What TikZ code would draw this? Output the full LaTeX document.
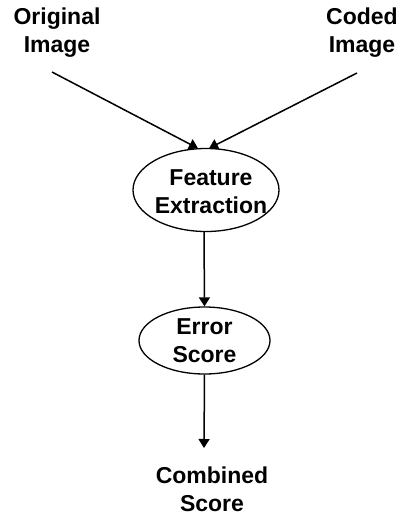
\documentclass[tikz,border=0pt]{standalone}
\usepackage{fontspec}
\setmainfont{Liberation Sans}
\usetikzlibrary{shapes.geometric,arrows.meta}
\begin{document}
\begin{tikzpicture}[x=1pt,y=-1pt,
  lbl/.style={font=\fontsize{23}{28}\selectfont\bfseries, align=center, inner sep=0pt},
  oval/.style={draw, ellipse, line width=1.3pt, inner sep=0pt},
  arr/.style={line width=1.5pt, -{Triangle[width=11pt,length=9pt]}}]
\useasboundingbox (0,0) rectangle (402,517);
\node[lbl] (orig) at (57,33) {Original\\Image};
\node[lbl] (coded) at (362,33) {Coded\\Image};
\node[oval, minimum width=146pt, minimum height=83pt] (fe) at (206,190) {};
\node[lbl] (fet) at (211,192) {Feature\\Extraction};
\node[oval, minimum width=131pt, minimum height=67pt] (es) at (204.5,340.5) {};
\node[lbl] (est) at (204.5,341) {Error\\Score};
\node[lbl] (cs) at (212,489) {Combined\\Score};
\coordinate (o1) at (52,72);
\coordinate (c1) at (357,73);
\coordinate (ct) at (204,448);
\draw[arr] (o1) -- ([xshift=-8pt,yshift=-0.5pt]fe.north);
\draw[arr] (c1) -- ([xshift=3pt,yshift=-0.5pt]fe.north);
\draw[arr] ([xshift=-2pt]fe.south) -- (es.north);
\draw[arr] (es.south) -- (ct);
\end{tikzpicture}
\end{document}
